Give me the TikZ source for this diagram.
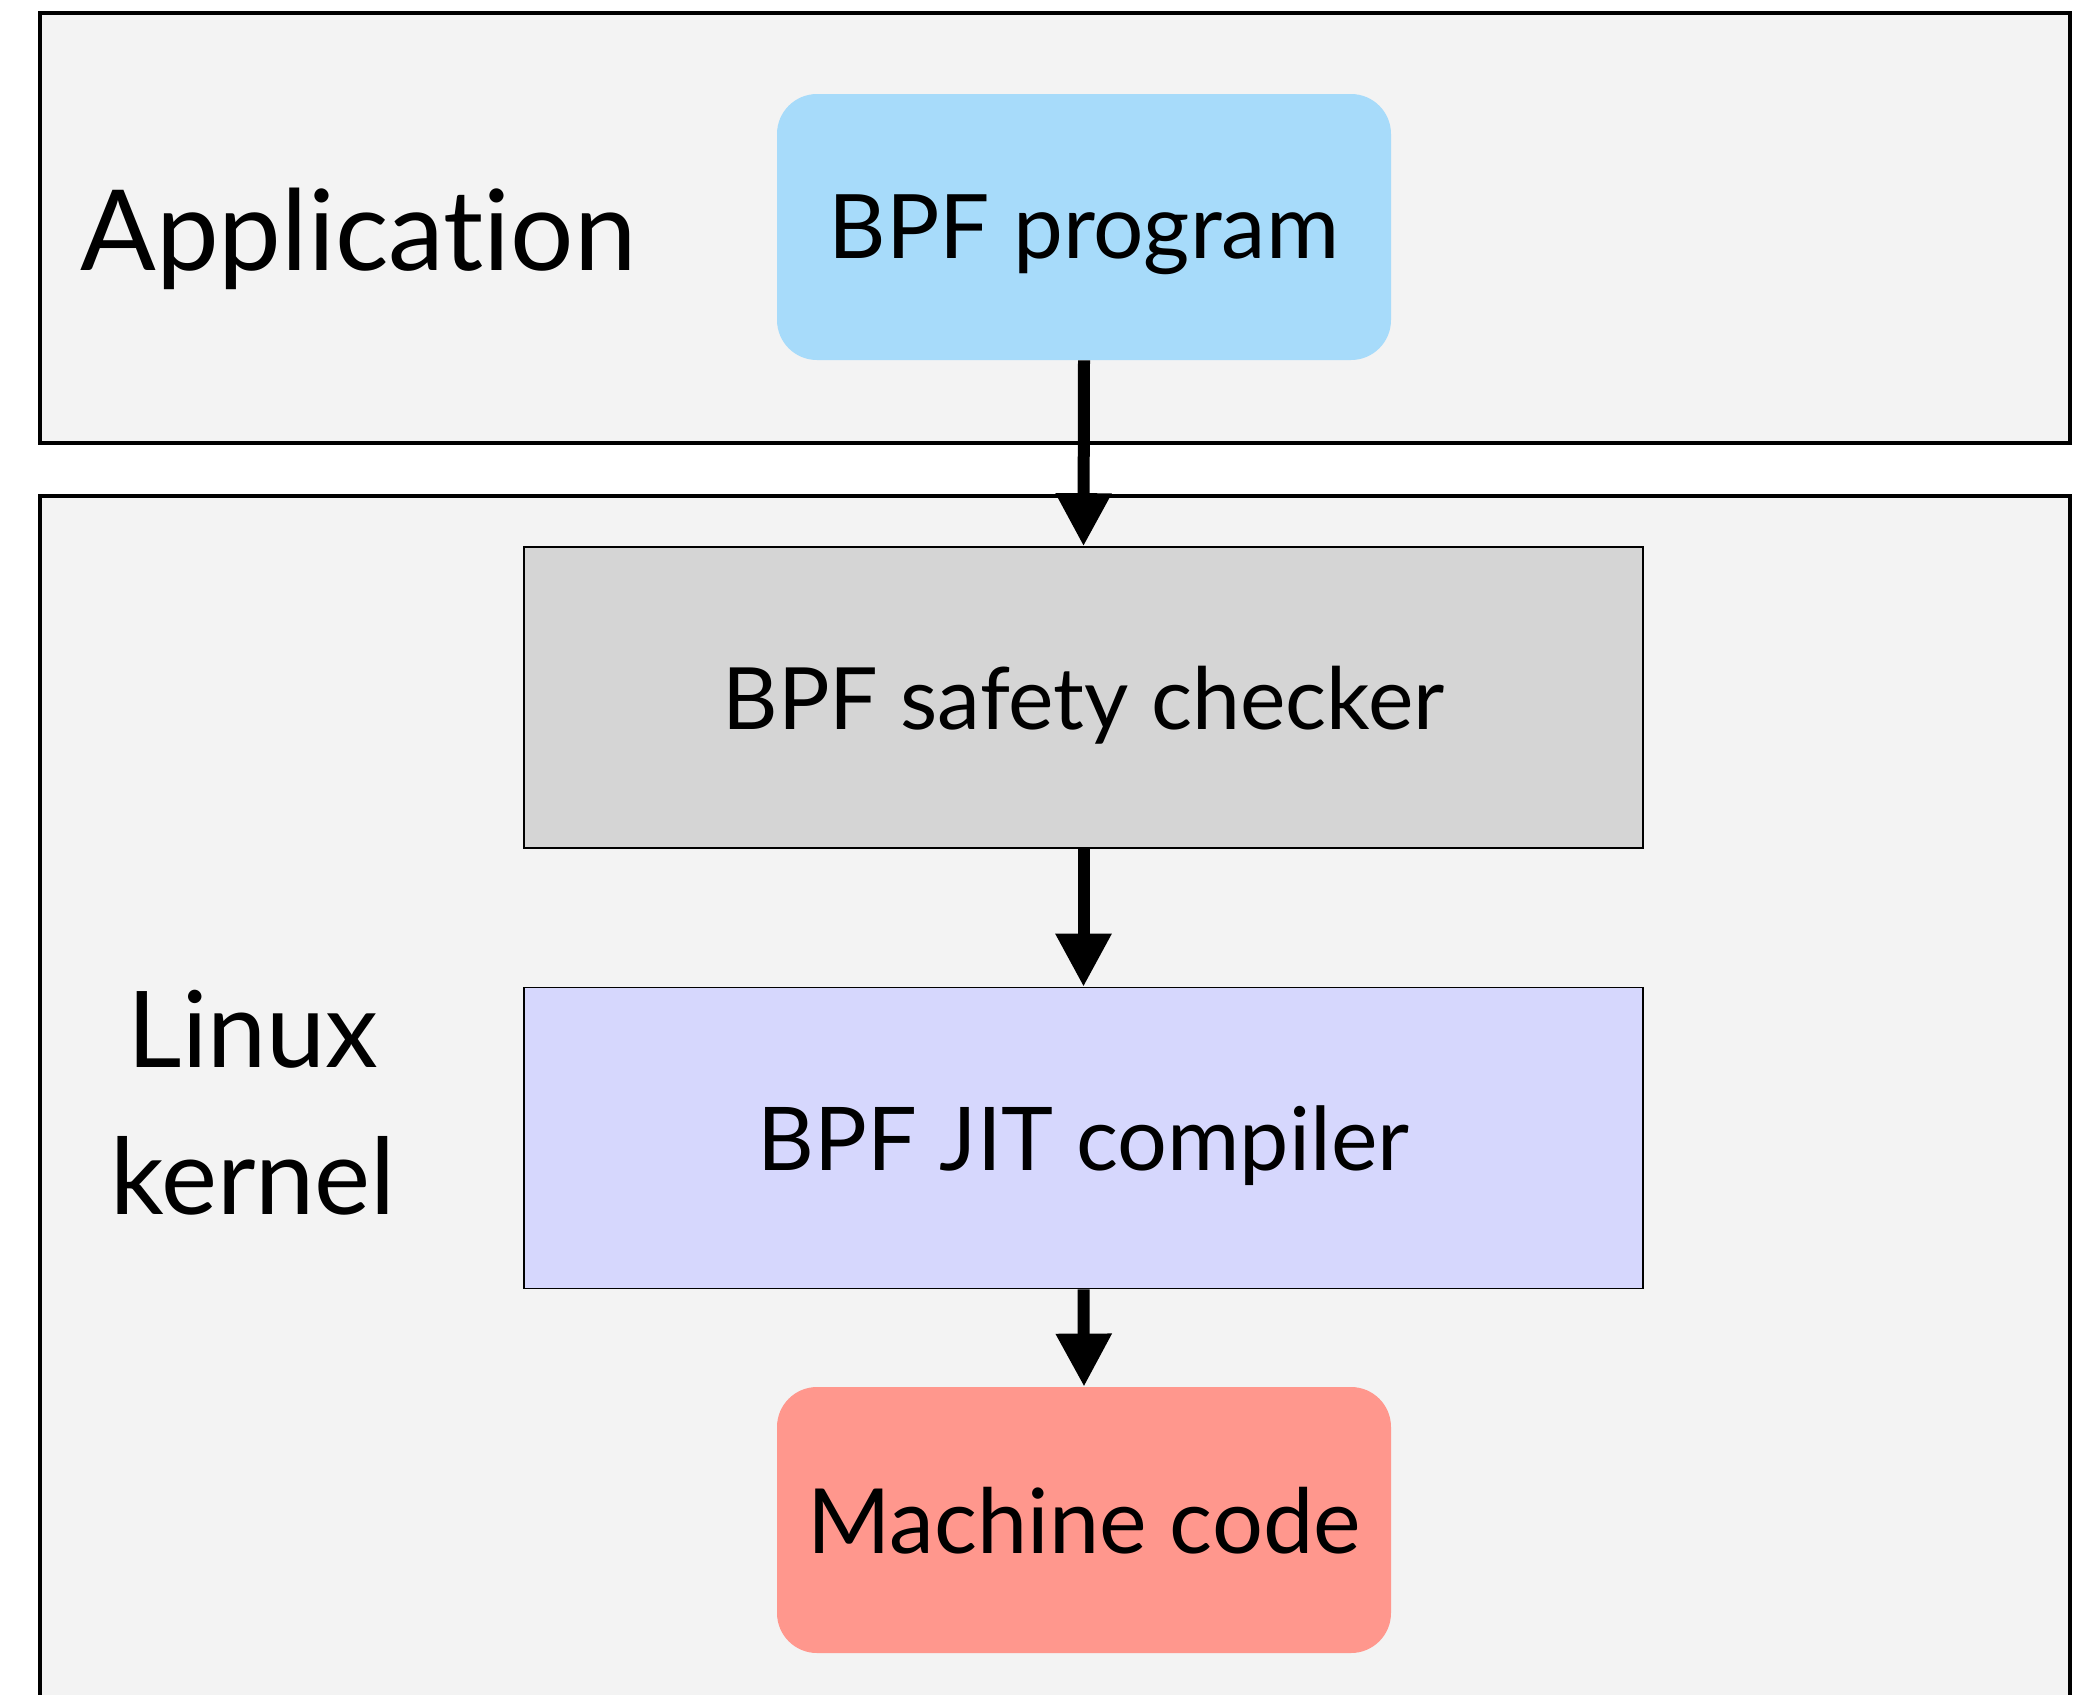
\documentclass[tikz,border=0pt]{standalone}
\usepackage{fontspec}
\setmainfont{Lato}[Ligatures=NoCommon]
\usetikzlibrary{arrows.meta}
\definecolor{panelbg}{HTML}{F3F3F3}
\definecolor{progblue}{HTML}{A7DBFA}
\definecolor{checkgray}{HTML}{D5D5D5}
\definecolor{jitviolet}{HTML}{D6D7FD}
\definecolor{machred}{HTML}{FF978D}
\begin{document}
\begin{tikzpicture}[x=0.5pt,y=-0.5pt,
  panel/.style={draw=black,line width=2pt,fill=panelbg},
  roundbox/.style={rounded corners=20pt,minimum width=307pt,minimum height=133pt,inner sep=0pt,text depth=0pt,font=\fontsize{44.5}{53}\selectfont},
  squarebox/.style={draw=black,line width=0.8pt,minimum width=559.5pt,minimum height=150.5pt,inner sep=0pt,text depth=0pt,font=\fontsize{44}{53}\selectfont},
  flow/.style={line width=6pt,-{Triangle[length=26.5pt,width=26.5pt]}},
  lbl/.style={inner sep=0pt}]
\clip (0,0) rectangle (2085,1694);
\fill[white] (0,0) rectangle (2085,1694);
\draw[panel] (40,13) rectangle (2070,443);
\draw[panel] (40,496) rectangle (2070,1760);
\node[lbl,anchor=west,text depth=0pt,font=\fontsize{56}{68}\selectfont] (app) at (80,229) {Application};
\node[lbl,align=center,font=\fontsize{53}{73.5}\selectfont] (kern) at (253,1103) {Linux\\kernel};
\node[roundbox,fill=progblue] (prog) at (1084,227) {BPF program};
\node[squarebox,fill=checkgray,font=\fontsize{43}{53}\selectfont] (check) at (1083.5,697.5) {BPF safety checker};
\node[squarebox,fill=jitviolet] (jit) at (1083.5,1138) {BPF JIT compiler};
\node[roundbox,fill=machred,font=\fontsize{45}{53}\selectfont] (mach) at (1084,1520) {Machine code};
\draw[flow] (prog.south) -- (check.north);
\draw[flow] (check.south) -- (jit.north);
\draw[flow] (jit.south) -- (mach.north);
\end{tikzpicture}
\end{document}
